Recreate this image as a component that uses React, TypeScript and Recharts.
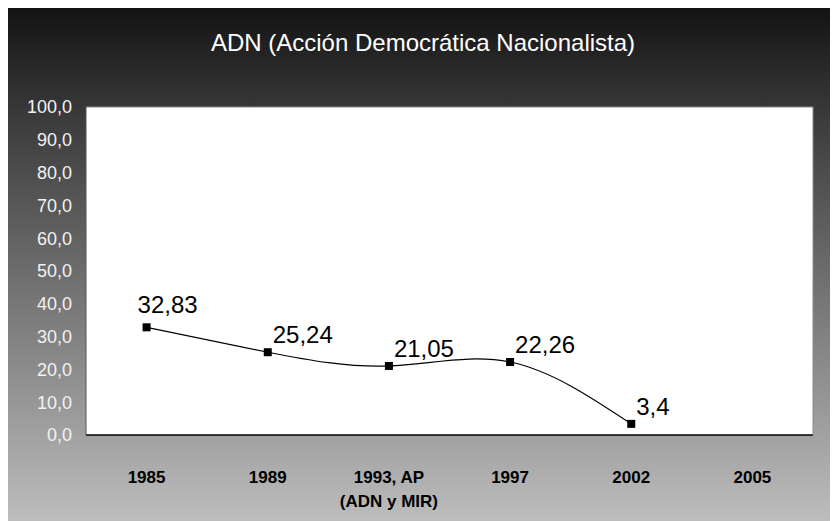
import { LineChart, Line, XAxis, YAxis, CartesianGrid } from 'recharts'

const years = ['1985', '1989', '1993, AP\n(ADN y MIR)', '1997', '2002', '2005']
const votes: Array<number | null> = [32.83, 25.24, 21.05, 22.26, 3.4, null]
const yTicks = [0, 10, 20, 30, 40, 50, 60, 70, 80, 90, 100]
const boundaryTicks = [0, 1, 2, 3, 4, 5, 6]

const data = years.map((year, i) => ({ year, pct: votes[i] }))

const fmt = (v: number) => String(v).replace('.', ',')
const FONT = 'Liberation Sans, Arial, sans-serif'

function YearTick({ x, y, payload }: any) {
  const lines = String(payload.value).split('\n')
  return (
    <text x={x} y={y + 39} textAnchor="middle" fontFamily={FONT} fontWeight="bold" fontSize={17} fill="#000">
      {lines.map((l, i) => (
        <tspan key={i} x={x} dy={i === 0 ? 0 : 24}>
          {l}
        </tspan>
      ))}
    </text>
  )
}

function SquareDot({ cx, cy, value }: any) {
  if (value == null || cx == null || cy == null) return null
  return <rect x={cx - 4} y={cy - 4} width={8} height={8} fill="#000" />
}

function ValueLabel({ x, y, value, index }: any) {
  if (value == null) return null
  const dx = index === 0 ? -9 : 5
  const dy = index === 0 ? -14 : -9
  return (
    <text x={x + dx} y={y + dy} fontFamily={FONT} fontSize={24} fill="#000">
      {fmt(value)}
    </text>
  )
}

export default function App() {
  return (
    <div
      style={{
        position: 'relative',
        width: 830,
        height: 513,
        background: 'linear-gradient(to bottom, #131313 0%, #3c3c3c 22%, #bdbdbd 100%)',
      }}
    >
      <div
        style={{
          position: 'absolute',
          top: 21,
          left: 0,
          width: 830,
          textAlign: 'center',
          color: '#fff',
          fontFamily: FONT,
          fontSize: 24,
        }}
      >
        ADN (Acción Democrática Nacionalista)
      </div>
      <LineChart
        width={830}
        height={513}
        data={data}
        margin={{ top: 98, right: 24, left: 0, bottom: 0 }}
        style={{ position: 'absolute', top: 0, left: 0 }}
      >
        <CartesianGrid xAxisId="cat" fill="#fff" horizontal={false} vertical={false} />
        <XAxis
          type="number"
          domain={[0, 6]}
          allowDataOverflow
          ticks={boundaryTicks}
          height={1}
          tick={false}
          tickSize={8}
          tickLine={{ stroke: '#000' }}
          axisLine={{ stroke: '#000', strokeWidth: 1.5 }}
        />
        <XAxis
          xAxisId="cat"
          dataKey="year"
          scale="band"
          interval={0}
          height={85}
          tickLine={false}
          axisLine={false}
          tick={<YearTick />}
        />
        <XAxis
          xAxisId="top"
          orientation="top"
          type="number"
          domain={[0, 1]}
          allowDataOverflow
          height={1}
          tick={false}
          tickLine={false}
          axisLine={{ stroke: '#8a8a8a' }}
        />
        <YAxis
          domain={[0, 100]}
          ticks={yTicks}
          width={78}
          tickSize={0}
          tickMargin={14}
          tickFormatter={(v: number) => v.toFixed(1).replace('.', ',')}
          tick={{ fill: '#f2f2f2', fontSize: 18, fontFamily: FONT }}
          axisLine={{ stroke: '#555' }}
        />
        <YAxis
          yAxisId="right"
          orientation="right"
          domain={[0, 100]}
          allowDataOverflow
          width={1}
          tick={false}
          tickLine={false}
          axisLine={{ stroke: '#8a8a8a' }}
        />
        <Line
          xAxisId="cat"
          type="natural"
          dataKey="pct"
          stroke="#000"
          strokeWidth={1.2}
          dot={<SquareDot />}
          activeDot={false}
          label={<ValueLabel />}
          isAnimationActive={false}
        />
      </LineChart>
    </div>
  )
}
